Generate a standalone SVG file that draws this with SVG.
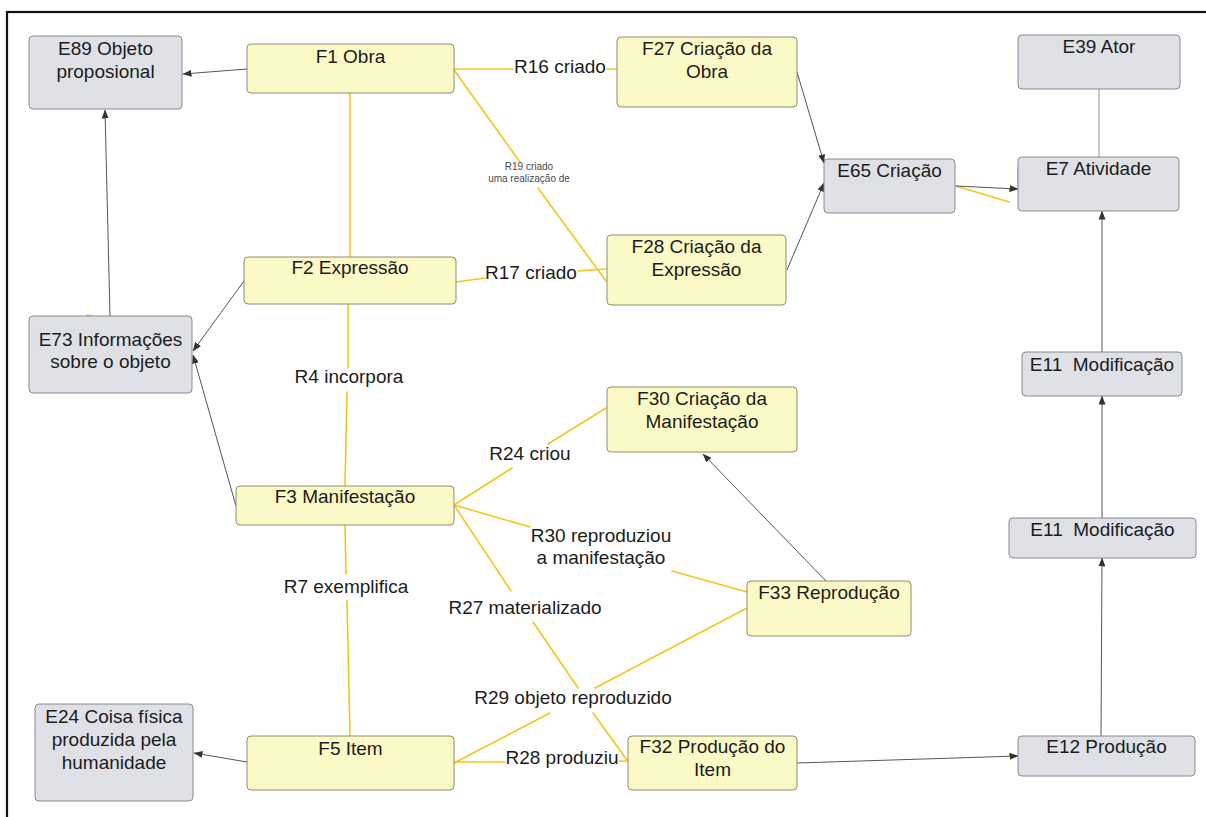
<svg xmlns="http://www.w3.org/2000/svg" width="1206" height="817" viewBox="0 0 1206 817">
  <style>
    .ent { fill: #dfe1e7; stroke: #8a8a8a; stroke-width: 1; }
    .frb { fill: #fbf9c5; stroke: #8f8c6e; stroke-width: 1; }
    .t { font-family: "Liberation Sans", Arial, sans-serif; font-size: 19px; fill: #1c1c1c; text-anchor: middle; }
    .ts { font-family: "Liberation Sans", Arial, sans-serif; font-size: 10px; fill: #4a4a4a; text-anchor: middle; }
    .rel { stroke: #f5c518; stroke-width: 1.6; fill: none; stroke-linecap: round; }
    .arr { stroke: #555; stroke-width: 1; fill: none; marker-end: url(#head); }
    .plain { stroke: #9a9a9a; stroke-width: 1.1; fill: none; }
  </style>
  <defs>
    <marker id="head" markerUnits="userSpaceOnUse" markerWidth="9" markerHeight="7" refX="8.5" refY="3.5" orient="auto">
      <path d="M0,0 L9,3.5 L0,7 z" fill="#333"/>
    </marker>
  </defs>

  <rect width="1206" height="817" fill="#ffffff"/>
  <!-- page frame -->
  <rect x="7" y="12" width="1300" height="900" fill="none" stroke="#111" stroke-width="2.2"/>

  <!-- connectors -->
  <g id="connectors">
    <!-- relation lines (yellow) -->
    <path class="rel" d="M454,69 L513,69 M607,69 L617,69"/>
    <path class="rel" d="M454,70 L520,162 M538,188 L606,281"/>
    <path class="rel" d="M456,282 L485,278 M578,271 L606,269"/>
    <path class="rel" d="M350,93 L350,257"/>
    <path class="rel" d="M348,304 L348,368 M347,392 L345,486"/>
    <path class="rel" d="M345,525 L346,574 M347,600 L350,736"/>
    <path class="rel" d="M454,505 L512,468 M548,444 L606,408"/>
    <path class="rel" d="M454,505 L530,527 M672,571 L747,592"/>
    <path class="rel" d="M454,505 L511,591 M533,622 L578,688 M593,713 L627,760"/>
    <path class="rel" d="M747,608 L595,688 M550,713 L454,763"/>
    <path class="rel" d="M454,762 L505,762 M619,761 L627,761"/>
    <path class="rel" d="M87,315 L112,321"/>
    <path class="rel" d="M956,186 L1009,202 M1018,167 L1018,187"/>

    <!-- hierarchy arrows (grey) -->
    <path class="arr" d="M247,69 L183,74"/>
    <path class="arr" d="M110,316 L105,110"/>
    <path class="arr" d="M244,281 L193,351"/>
    <path class="arr" d="M236,506 L193,355"/>
    <path class="arr" d="M247,762 L194,753"/>
    <path class="arr" d="M797,72 L824,163"/>
    <path class="arr" d="M787,270 L824,183"/>
    <path class="arr" d="M956,186 L1018,189"/>
    <path class="arr" d="M826,581 L703,454"/>
    <path class="arr" d="M797,763 L1018,756"/>
    <path class="arr" d="M1101,736 L1102,558"/>
    <path class="arr" d="M1102,518 L1102,396"/>
    <path class="arr" d="M1102,352 L1102,211"/>
    <path class="plain" d="M1099,89 L1099,157"/>

    <!-- relation labels -->
    <text class="t" x="560" y="73">R16 criado</text>
    <text class="ts" x="529" y="170">R19 criado</text>
    <text class="ts" x="529" y="182">uma realização de</text>
    <text class="t" x="531" y="279">R17 criado</text>
    <text class="t" x="349" y="383">R4 incorpora</text>
    <text class="t" x="346" y="593">R7 exemplifica</text>
    <text class="t" x="530" y="460">R24 criou</text>
    <text class="t" x="601" y="542">R30 reproduziou</text>
    <text class="t" x="601" y="564">a manifestação</text>
    <text class="t" x="525" y="614">R27 materializado</text>
    <text class="t" x="573" y="704">R29 objeto reproduzido</text>
    <text class="t" x="562" y="764">R28 produziu</text>
  </g>

  <!-- nodes -->
  <g id="e89">
    <rect class="ent" x="29" y="36" width="153" height="73" rx="4"/>
    <text class="t" x="105.5" y="55">E89 Objeto</text>
    <text class="t" x="105.5" y="78">proposional</text>
  </g>
  <g id="f1">
    <rect class="frb" x="247" y="44" width="207" height="49" rx="4"/>
    <text class="t" x="350.5" y="63">F1 Obra</text>
  </g>
  <g id="f27">
    <rect class="frb" x="617" y="37" width="180" height="70" rx="4"/>
    <text class="t" x="707" y="55">F27 Criação da</text>
    <text class="t" x="707" y="78">Obra</text>
  </g>
  <g id="e39">
    <rect class="ent" x="1018" y="35" width="162" height="54" rx="4"/>
    <text class="t" x="1099" y="53">E39 Ator</text>
  </g>
  <g id="e65">
    <rect class="ent" x="824" y="159" width="131" height="54" rx="4"/>
    <text class="t" x="889.5" y="177">E65 Criação</text>
  </g>
  <g id="e7">
    <rect class="ent" x="1018" y="157" width="161" height="54" rx="4"/>
    <text class="t" x="1098.5" y="175">E7 Atividade</text>
  </g>
  <g id="f2">
    <rect class="frb" x="244" y="257" width="212" height="47" rx="4"/>
    <text class="t" x="350" y="274">F2 Expressão</text>
  </g>
  <g id="f28">
    <rect class="frb" x="607" y="235" width="179" height="70" rx="4"/>
    <text class="t" x="696.5" y="253">F28 Criação da</text>
    <text class="t" x="696.5" y="276">Expressão</text>
  </g>
  <g id="e73">
    <rect class="ent" x="29" y="316" width="163" height="77" rx="4"/>
    <text class="t" x="110.5" y="346">E73 Informações</text>
    <text class="t" x="110.5" y="368">sobre o objeto</text>
  </g>
  <g id="e11a">
    <rect class="ent" x="1022" y="352" width="160" height="44" rx="4"/>
    <text class="t" x="1102" y="371" xml:space="preserve">E11  Modificação</text>
  </g>
  <g id="f30">
    <rect class="frb" x="607" y="387" width="190" height="65" rx="4"/>
    <text class="t" x="702" y="405">F30 Criação da</text>
    <text class="t" x="702" y="428">Manifestação</text>
  </g>
  <g id="f3">
    <rect class="frb" x="236" y="486" width="218" height="39" rx="4"/>
    <text class="t" x="345" y="503">F3 Manifestação</text>
  </g>
  <g id="e11b">
    <rect class="ent" x="1009" y="518" width="187" height="40" rx="4"/>
    <text class="t" x="1102.5" y="536" xml:space="preserve">E11  Modificação</text>
  </g>
  <g id="f33">
    <rect class="frb" x="747" y="581" width="164" height="55" rx="4"/>
    <text class="t" x="829" y="599">F33 Reprodução</text>
  </g>
  <g id="e24">
    <rect class="ent" x="35" y="704" width="158" height="97" rx="4"/>
    <text class="t" x="114" y="723">E24 Coisa física</text>
    <text class="t" x="114" y="746">produzida pela</text>
    <text class="t" x="114" y="769">humanidade</text>
  </g>
  <g id="f5">
    <rect class="frb" x="247" y="736" width="207" height="54" rx="4"/>
    <text class="t" x="350.5" y="755">F5 Item</text>
  </g>
  <g id="f32">
    <rect class="frb" x="628" y="736" width="169" height="54" rx="4"/>
    <text class="t" x="712.5" y="753">F32 Produção do</text>
    <text class="t" x="712.5" y="776">Item</text>
  </g>
  <g id="e12">
    <rect class="ent" x="1018" y="736" width="177" height="40" rx="4"/>
    <text class="t" x="1106.5" y="753">E12 Produção</text>
  </g>
</svg>
